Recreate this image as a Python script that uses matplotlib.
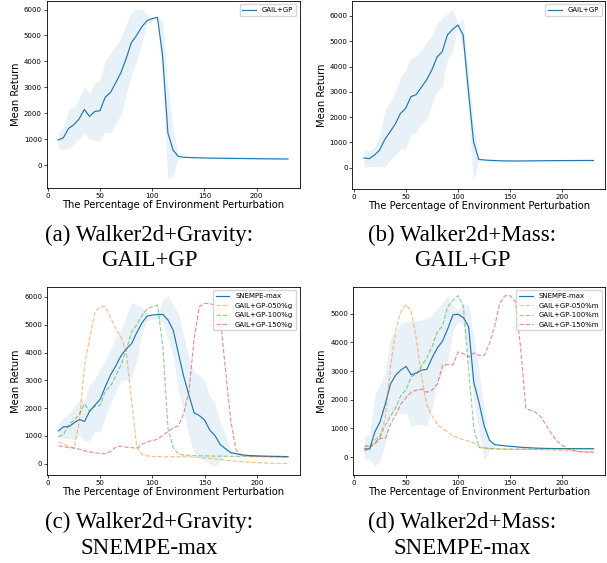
import numpy as np
import matplotlib
matplotlib.use("Agg")
import matplotlib.pyplot as plt

# ---------------- data ----------------
x = list(range(10, 231, 5))

# (a) Walker2d+Gravity: GAIL+GP (also GAIL+GP-100%g)
grav_gp_mean = [970, 1060, 1420, 1560, 1780, 2150, 1880, 2070, 2100, 2620,
                2800, 3170, 3560, 4100, 4720, 5000, 5330, 5570, 5650, 5700,
                4200, 1250, 580, 340, 310, 300, 290, 285, 280, 275,
                272, 270, 268, 265, 262, 260, 258, 255, 252, 250,
                248, 246, 244, 242, 240]
grav_gp_upper = [1300, 1450, 2150, 2250, 2550, 3020, 2750, 3150, 3300, 4000,
                 4300, 4600, 4900, 5400, 5900, 6000, 6000, 5800, 5700, 5700,
                 5600, 3000, 1400, 360, 325, 315, 305, 300, 295, 290,
                 287, 285, 283, 280, 277, 275, 273, 270, 267, 265,
                 263, 261, 259, 257, 255]
grav_gp_lower = [620, 600, 680, 820, 1000, 1250, 1000, 980, 920, 1280,
                 1230, 1600, 1950, 2700, 3500, 4000, 4700, 5450, 5600, 5650,
                 3200, -550, -420, 320, 295, 285, 275, 270, 265, 260,
                 257, 255, 253, 250, 247, 245, 243, 240, 237, 235,
                 233, 231, 229, 227, 225]

# (b) Walker2d+Mass: GAIL+GP (also GAIL+GP-100%m)
mass_gp_mean = [390, 360, 500, 700, 1120, 1420, 1730, 2150, 2350, 2810,
                2890, 3180, 3470, 3860, 4370, 4590, 5250, 5470, 5640, 5250,
                3070, 1030, 330, 310, 295, 285, 278, 272, 270, 270,
                270, 272, 274, 276, 278, 280, 282, 284, 285, 286,
                287, 288, 289, 290, 290]
mass_gp_upper = [700, 680, 800, 1300, 2250, 2600, 3000, 3600, 3850, 4350,
                 4400, 4650, 4950, 5250, 5700, 5900, 6100, 6250, 5700, 5900,
                 3800, 1800, 350, 325, 310, 300, 293, 287, 285, 285,
                 285, 287, 289, 291, 293, 295, 297, 299, 300, 301,
                 302, 303, 304, 305, 305]
mass_gp_lower = [30, 50, 60, 70, 20, 300, 500, 720, 750, 1300,
                 1400, 1750, 1900, 2500, 3000, 3200, 4300, 4600, 5550, 4600,
                 2200, -500, 300, 295, 280, 270, 263, 257, 255, 255,
                 255, 257, 259, 261, 263, 265, 267, 269, 270, 271,
                 272, 273, 274, 275, 275]

# (c) Walker2d+Gravity: SNEMPE-max
grav_sn_mean = [1180, 1330, 1330, 1470, 1590, 1520, 1900, 2110, 2320, 2780,
                3200, 3520, 3890, 4130, 4320, 4710, 5070, 5310, 5350, 5370,
                5370, 5170, 4800, 3960, 3140, 2470, 1830, 1730, 1570, 1210,
                1010, 690, 540, 400, 360, 320, 300, 290, 280, 275,
                270, 265, 262, 258, 255]
grav_sn_upper = [1450, 1650, 1800, 2050, 2300, 2300, 2850, 3050, 3400, 3700,
                 4100, 4550, 4800, 5300, 5800, 5700, 5650, 5350, 5300, 5400,
                 5900, 6050, 5700, 5400, 4600, 3800, 3300, 3200, 3000, 2400,
                 2200, 1500, 1000, 500, 400, 340, 310, 300, 290, 285,
                 280, 275, 272, 268, 265]
grav_sn_lower = [950, 900, 900, 870, 1050, 800, 850, 1150, 1150, 1700,
                 2200, 2600, 3000, 3000, 3100, 3700, 4700, 5150, 5200, 5200,
                 5050, 4500, 3900, 2600, 1900, 1000, 400, 200, 100, 0,
                 -100, 100, 300, 330, 330, 300, 290, 280, 270, 265,
                 260, 255, 252, 248, 245]
grav_050 = [790, 700, 620, 570, 1500, 3550, 4550, 5450, 5650, 5650,
            5250, 4850, 4550, 4000, 2300, 600, 330, 280, 260, 255,
            250, 250, 250, 250, 250, 245, 240, 225, 210, 190,
            170, 150, 130, 110, 90, 75, 60, 50, 40, 30,
            22, 15, 10, 8, 5]
grav_100 = grav_gp_mean
grav_150 = [640, 610, 580, 560, 520, 460, 420, 390, 370, 360,
            440, 600, 630, 590, 580, 550, 700, 790, 830, 880,
            1020, 1160, 1290, 1370, 1800, 2600, 4500, 5650, 5770, 5760,
            5700, 5300, 3400, 1600, 500, 320, 290, 280, 270, 262,
            255, 250, 245, 242, 240]

# (d) Walker2d+Mass: SNEMPE-max
mass_sn_mean = [282, 282, 880, 1230, 1850, 2550, 2860, 3040, 3165, 2870,
                2940, 3035, 3060, 3470, 3810, 4050, 4480, 4965, 4990, 4870,
                4550, 2610, 1905, 1080, 590, 435, 410, 390, 375, 360,
                340, 330, 320, 310, 305, 300, 297, 295, 294, 293,
                292, 292, 291, 291, 290]
mass_sn_upper = [730, 790, 2150, 2550, 2960, 4140, 4380, 4670, 4730, 4730,
                 4760, 4790, 4850, 4960, 5200, 5380, 5635, 5280, 5140, 5380,
                 5290, 4200, 3000, 1700, 600, 455, 425, 405, 390, 375,
                 355, 345, 335, 325, 320, 315, 312, 310, 309, 308,
                 307, 307, 306, 306, 305]
mass_sn_lower = [-60, -95, -330, -95, 435, 1375, 1610, 1490, 1550, 1080,
                 1140, 1140, 1080, 1730, 2550, 2960, 3380, 4435, 4730, 4610,
                 3380, 1965, 905, -95, 200, 410, 395, 375, 360, 345,
                 325, 315, 305, 295, 290, 285, 282, 280, 279, 278,
                 277, 277, 276, 276, 275]
mass_050 = [340, 435, 610, 730, 1380, 3140, 4435, 5080, 5320, 5080,
            4080, 2790, 1790, 1435, 1140, 1000, 870, 730, 670, 610,
            550, 495, 375, 320, 300, 290, 285, 280, 278, 275,
            272, 270, 267, 263, 258, 252, 245, 237, 228, 218,
            208, 198, 190, 184, 180]
mass_100 = mass_gp_mean
mass_150 = [200, 320, 460, 650, 650, 1140, 1470, 1850, 2080, 2260,
            2340, 2365, 2260, 2340, 2550, 3200, 3235, 3220, 3670, 3610,
            3490, 3635, 3550, 3550, 3960, 4550, 5380, 5635, 5630, 5430,
            3800, 1700, 1630, 1550, 1380, 1080, 790, 550, 410, 290,
            235, 200, 175, 165, 165]

captions = [("(a) Walker2d+Gravity:", "GAIL+GP"),
            ("(b) Walker2d+Mass:", "GAIL+GP"),
            ("(c) Walker2d+Gravity:", "SNEMPE-max"),
            ("(d) Walker2d+Mass:", "SNEMPE-max")]

# ---------------- drawing ----------------
W, H = 607, 563
fig = plt.figure(figsize=(W / 100, H / 100), dpi=100)

def ax_at(l, t, r, b):
    return fig.add_axes([l / W, 1 - b / H, (r - l) / W, (b - t) / H])

axes = [ax_at(46.7, 1, 299.5, 188),
        ax_at(352.5, 1, 605, 189),
        ax_at(47, 287, 299.5, 475),
        ax_at(353, 287, 605, 475)]

BLUE = "#1f77b4"
LW = 0.85
TICK_FS = 5
LABEL_FS = 7.2
LEG_FS = 5

def style(ax):
    for s in ax.spines.values():
        s.set_linewidth(0.6)
    ax.tick_params(labelsize=TICK_FS, length=2, width=0.5, pad=1.5)
    ax.set_xlabel("The Percentage of Environment Perturbation", fontsize=LABEL_FS, labelpad=1)
    ax.set_ylabel("Mean Return", fontsize=LABEL_FS, labelpad=2)
    ax.set_xticks([0, 50, 100, 150, 200])

# (a)
ax = axes[0]
ax.fill_between(x, grav_gp_lower, grav_gp_upper, color=BLUE, alpha=0.1, linewidth=0)
ax.plot(x, grav_gp_mean, color=BLUE, lw=LW, label="GAIL+GP")
ax.legend(loc="upper right", fontsize=LEG_FS)
style(ax)

# (b)
ax = axes[1]
ax.fill_between(x, mass_gp_lower, mass_gp_upper, color=BLUE, alpha=0.1, linewidth=0)
ax.plot(x, mass_gp_mean, color=BLUE, lw=LW, label="GAIL+GP")
ax.legend(loc="upper right", fontsize=LEG_FS)
style(ax)

# (c)
ax = axes[2]
ax.fill_between(x, grav_sn_lower, grav_sn_upper, color=BLUE, alpha=0.1, linewidth=0)
ax.plot(x, grav_sn_mean, color=BLUE, lw=LW, label="SNEMPE-max")
ax.plot(x, grav_050, color="#ff7f0e", lw=LW, ls="--", alpha=0.5, label="GAIL+GP-050%g")
ax.plot(x, grav_100, color="#2ca02c", lw=LW, ls="--", alpha=0.5, label="GAIL+GP-100%g")
ax.plot(x, grav_150, color="#d62728", lw=LW, ls="--", alpha=0.5, label="GAIL+GP-150%g")
ax.legend(loc="upper right", fontsize=LEG_FS)
style(ax)

# (d)
ax = axes[3]
ax.fill_between(x, mass_sn_lower, mass_sn_upper, color=BLUE, alpha=0.1, linewidth=0)
ax.plot(x, mass_sn_mean, color=BLUE, lw=LW, label="SNEMPE-max")
ax.plot(x, mass_050, color="#ff7f0e", lw=LW, ls="--", alpha=0.5, label="GAIL+GP-050%m")
ax.plot(x, mass_100, color="#2ca02c", lw=LW, ls="--", alpha=0.5, label="GAIL+GP-100%m")
ax.plot(x, mass_150, color="#d62728", lw=LW, ls="--", alpha=0.5, label="GAIL+GP-150%m")
ax.legend(loc="upper right", fontsize=LEG_FS)
style(ax)

# captions
cap_pos = [(149, 235, 260), (462, 235, 260), (149, 522, 548), (462, 522, 548)]
for (l1, l2), (cx, y1, y2) in zip(captions, cap_pos):
    for txt, yy in ((l1, y1), (l2, y2)):
        fig.text(cx / W, 1 - yy / H, txt, ha="center", va="center",
                 fontsize=16.5, family=["Liberation Serif", "DejaVu Serif"])

fig.savefig("out.png", dpi=100)
